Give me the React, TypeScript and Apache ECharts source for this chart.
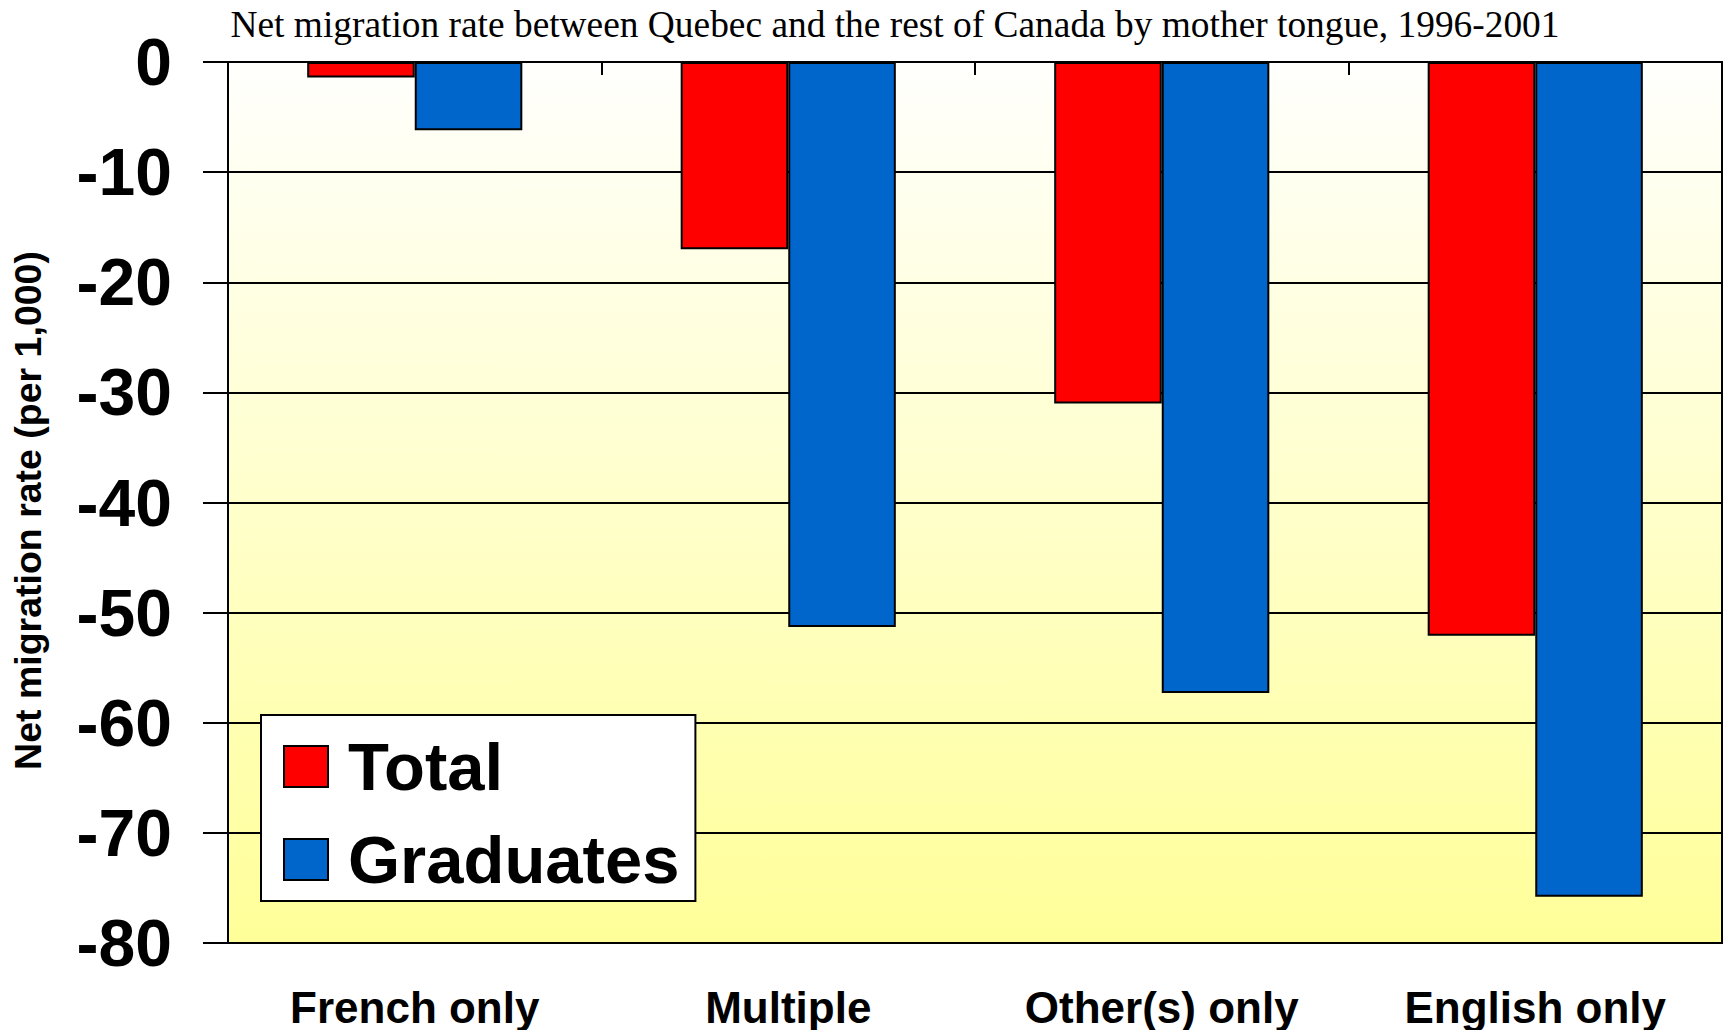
import React, { useEffect, useRef } from "react";
import * as echarts from "echarts";

const categories = ["French only", "Multiple", "Other(s) only", "English only"];
const totalValues = [-1.4, -17.0, -31.0, -52.1];
const graduateValues = [-6.2, -51.3, -57.3, -75.8];
const seriesNames = ["Total", "Graduates"];
const titleText = "Net migration rate between Quebec and the rest of Canada by mother tongue, 1996-2001";
const yAxisTitle = "Net migration rate (per 1,000)";

export default function App() {
  const ref = useRef<HTMLDivElement>(null);
  useEffect(() => {
    if (!ref.current) return;
    const chart = echarts.init(ref.current, null, { renderer: "svg" });
    const sans = "'Liberation Sans', Arial, sans-serif";
    chart.setOption({
      animation: false,
      backgroundColor: "#ffffff",
      title: {
        text: titleText,
        left: 895,
        top: 6,
        padding: 0,
        textAlign: "center",
        textStyle: {
          fontFamily: "'Liberation Serif', 'Times New Roman', serif",
          fontSize: 37.4,
          fontWeight: "normal",
          color: "#000",
        },
      },
      legend: {
        data: seriesNames,
        orient: "vertical",
        left: 261,
        top: 715,
        itemWidth: 44,
        itemHeight: 41,
        itemGap: 26,
        padding: [18, 16, 8, 22],
        backgroundColor: "#ffffff",
        borderColor: "#000",
        borderWidth: 2,
        icon: "rect",
        textStyle: { fontFamily: sans, fontSize: 67, fontWeight: "bold", color: "#000", padding: [0, 0, 0, 15] },
      },
      grid: {
        left: 228,
        right: 4,
        top: 62,
        bottom: 87,
        show: true,
        borderColor: "#000",
        borderWidth: 2,
        backgroundColor: new echarts.graphic.LinearGradient(0, 0, 0, 1, [
          { offset: 0, color: "#FFFFFD" },
          { offset: 1, color: "#FFFF99" },
        ]),
      },
      xAxis: [
        {
          type: "category",
          data: categories,
          position: "top",
          axisLine: { show: true, onZero: false, lineStyle: { color: "#000", width: 2 } },
          axisTick: { show: true, inside: true, length: 13, lineStyle: { color: "#000", width: 2 } },
          axisLabel: { show: false },
          splitLine: { show: false },
        },
        {
          type: "category",
          data: categories,
          position: "bottom",
          axisLine: { show: false, onZero: false },
          axisTick: { show: false },
          axisLabel: {
            show: true,
            margin: 42,
            fontFamily: sans,
            fontSize: 44,
            fontWeight: "bold",
            color: "#000",
          },
        },
      ],
      yAxis: {
        type: "value",
        min: -80,
        max: 0,
        interval: 10,
        name: yAxisTitle,
        nameLocation: "middle",
        nameRotate: 90,
        nameGap: 181,
        nameTextStyle: {
          fontFamily: sans,
          fontSize: 37.5,
          fontWeight: "bold",
          color: "#000",
          padding: [0, 16, 0, 0],
        },
        axisLine: { show: true, lineStyle: { color: "#000", width: 2 } },
        axisTick: { show: true, inside: false, length: 25, lineStyle: { color: "#000", width: 2 } },
        axisLabel: {
          margin: 56,
          fontFamily: sans,
          fontSize: 66,
          fontWeight: "bold",
          color: "#000",
        },
        splitLine: { show: true, lineStyle: { color: "#000", width: 2 } },
      },
      series: [
        {
          name: seriesNames[0],
          type: "bar",
          xAxisIndex: 0,
          data: totalValues,
          barWidth: "28.8%",
          barGap: "0%",
          itemStyle: { color: "#FF0000", borderColor: "#000", borderWidth: 2 },
        },
        {
          name: seriesNames[1],
          type: "bar",
          xAxisIndex: 0,
          data: graduateValues,
          barWidth: "28.8%",
          barGap: "0%",
          itemStyle: { color: "#0066CC", borderColor: "#000", borderWidth: 2 },
        },
      ],
    });
    return () => chart.dispose();
  }, []);
  return <div ref={ref} style={{ width: 1726, height: 1030, position: "absolute", left: 0, top: 0 }} />;
}
